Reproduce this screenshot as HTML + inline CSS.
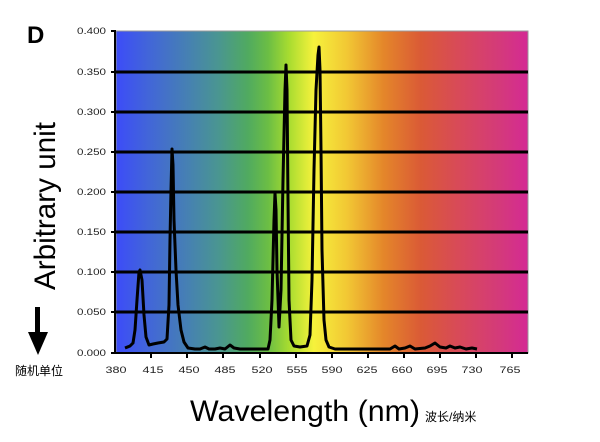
<!DOCTYPE html>
<html><head><meta charset="utf-8"><style>
html,body{margin:0;padding:0;background:#fff;}
svg{display:block;}
</style></head><body>
<svg width="600" height="442" viewBox="0 0 600 442" xmlns="http://www.w3.org/2000/svg">
<defs>
<linearGradient id="spec" x1="116" y1="0" x2="528" y2="0" gradientUnits="userSpaceOnUse">
<stop offset="0" stop-color="#3c4cf8"/>
<stop offset="0.08" stop-color="#4266d8"/>
<stop offset="0.18" stop-color="#4682b0"/>
<stop offset="0.25" stop-color="#4a9690"/>
<stop offset="0.32" stop-color="#50aa60"/>
<stop offset="0.37" stop-color="#6cbe44"/>
<stop offset="0.42" stop-color="#a8dc30"/>
<stop offset="0.48" stop-color="#f6f23c"/>
<stop offset="0.56" stop-color="#f2c834"/>
<stop offset="0.65" stop-color="#e4862a"/>
<stop offset="0.74" stop-color="#da5a36"/>
<stop offset="0.83" stop-color="#d84a58"/>
<stop offset="0.93" stop-color="#d43a7a"/>
<stop offset="1" stop-color="#d42a94"/>
</linearGradient>
</defs>
<rect x="116" y="31" width="412" height="322" fill="url(#spec)" stroke="#999" stroke-width="1"/>
<g stroke="#000" stroke-width="3">
<line x1="116" y1="72" x2="528" y2="72"/>
<line x1="116" y1="112" x2="528" y2="112"/>
<line x1="116" y1="152" x2="528" y2="152"/>
<line x1="116" y1="192" x2="528" y2="192"/>
<line x1="116" y1="232" x2="528" y2="232"/>
<line x1="116" y1="272" x2="528" y2="272"/>
<line x1="116" y1="312" x2="528" y2="312"/>
</g>
<g stroke="#000" stroke-width="2">
<line x1="115" y1="31" x2="115" y2="354"/>
<line x1="114" y1="353" x2="528" y2="353"/>
<line x1="111" y1="31" x2="116" y2="31"/>
<line x1="111" y1="72" x2="116" y2="72"/>
<line x1="111" y1="112" x2="116" y2="112"/>
<line x1="111" y1="152" x2="116" y2="152"/>
<line x1="111" y1="192" x2="116" y2="192"/>
<line x1="111" y1="232" x2="116" y2="232"/>
<line x1="111" y1="272" x2="116" y2="272"/>
<line x1="111" y1="312" x2="116" y2="312"/>
<line x1="111" y1="353" x2="116" y2="353"/>
<line x1="151" y1="353" x2="151" y2="358"/>
<line x1="187" y1="353" x2="187" y2="358"/>
<line x1="223" y1="353" x2="223" y2="358"/>
<line x1="260" y1="353" x2="260" y2="358"/>
<line x1="296" y1="353" x2="296" y2="358"/>
<line x1="332" y1="353" x2="332" y2="358"/>
<line x1="368" y1="353" x2="368" y2="358"/>
<line x1="404" y1="353" x2="404" y2="358"/>
<line x1="440" y1="353" x2="440" y2="358"/>
<line x1="476" y1="353" x2="476" y2="358"/>
<line x1="512" y1="353" x2="512" y2="358"/>
</g>
<polyline fill="none" stroke="#000" stroke-width="3" stroke-linejoin="round" points="
125,348 130,346 133,343 135,330 137,300 139,272 140,270 142,280 144,315 146,337 149,345 153,344 158,343 164,342 167,339 169,305 170,240 171,190 172,149 173,165 174,220 176,270 178,305 181,330 184,342 188,348 195,349 200,349 205,347 209,349 215,349 220,348 225,349 230,345 234,348 240,349 250,349 260,349 268,349 270,340 272,300 274,220 275,193 276,210 277,270 279,327 281,290 283,180 285,90 286,65 287,90 288,200 289,300 291,340 294,346 300,347 307,346 310,335 312,280 314,170 316,90 318,55 319,47 320,70 321,150 322,250 324,320 326,340 329,347 335,349 350,349 370,349 390,349 395,346 399,349 405,348 410,346 415,349 425,348 430,346 435,343 440,347 446,348 450,346 455,348 460,347 466,349 472,348 477,349"/>
<g font-family="Liberation Sans, sans-serif" font-size="9" fill="#222" text-anchor="end">
<text x="106" y="34" textLength="29" lengthAdjust="spacingAndGlyphs">0.400</text>
<text x="106" y="75" textLength="29" lengthAdjust="spacingAndGlyphs">0.350</text>
<text x="106" y="115" textLength="29" lengthAdjust="spacingAndGlyphs">0.300</text>
<text x="106" y="155" textLength="29" lengthAdjust="spacingAndGlyphs">0.250</text>
<text x="106" y="195" textLength="29" lengthAdjust="spacingAndGlyphs">0.200</text>
<text x="106" y="235" textLength="29" lengthAdjust="spacingAndGlyphs">0.150</text>
<text x="106" y="275" textLength="29" lengthAdjust="spacingAndGlyphs">0.100</text>
<text x="106" y="315" textLength="29" lengthAdjust="spacingAndGlyphs">0.050</text>
<text x="106" y="356" textLength="29" lengthAdjust="spacingAndGlyphs">0.000</text>
</g>
<g font-family="Liberation Sans, sans-serif" font-size="9" fill="#222" text-anchor="middle">
<text x="116" y="373" textLength="21" lengthAdjust="spacingAndGlyphs">380</text>
<text x="153" y="373" textLength="21" lengthAdjust="spacingAndGlyphs">415</text>
<text x="189" y="373" textLength="21" lengthAdjust="spacingAndGlyphs">450</text>
<text x="225" y="373" textLength="21" lengthAdjust="spacingAndGlyphs">485</text>
<text x="262" y="373" textLength="21" lengthAdjust="spacingAndGlyphs">520</text>
<text x="297" y="373" textLength="21" lengthAdjust="spacingAndGlyphs">555</text>
<text x="332" y="373" textLength="21" lengthAdjust="spacingAndGlyphs">590</text>
<text x="367" y="373" textLength="21" lengthAdjust="spacingAndGlyphs">625</text>
<text x="402" y="373" textLength="21" lengthAdjust="spacingAndGlyphs">660</text>
<text x="437" y="373" textLength="21" lengthAdjust="spacingAndGlyphs">695</text>
<text x="472" y="373" textLength="21" lengthAdjust="spacingAndGlyphs">730</text>
<text x="510" y="373" textLength="21" lengthAdjust="spacingAndGlyphs">765</text>
</g>
<text x="27" y="43" font-family="Liberation Sans, sans-serif" font-size="24" font-weight="bold" fill="#000">D</text>
<text transform="translate(55,290) rotate(-90)" font-family="Liberation Sans, sans-serif" font-size="30" fill="#000" textLength="168" lengthAdjust="spacingAndGlyphs">Arbitrary unit</text>
<rect x="35" y="307" width="5" height="27" fill="#000"/>
<polygon points="28,332 48,332 38,355" fill="#000"/>
<text x="15" y="375" font-family="Liberation Sans, Noto Sans CJK SC, sans-serif" font-size="12" fill="#000">随机单位</text>
<text x="190" y="421" font-family="Liberation Sans, sans-serif" font-size="30" fill="#000" textLength="230" lengthAdjust="spacingAndGlyphs">Wavelength (nm)</text>
<text x="425" y="421" font-family="Liberation Sans, Noto Sans CJK SC, sans-serif" font-size="12" fill="#000">波长/纳米</text>
</svg>
</body></html>
